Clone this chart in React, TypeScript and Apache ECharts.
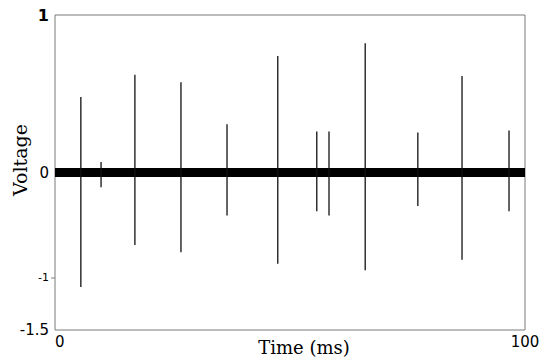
import React, { useEffect, useRef } from "react";
import * as echarts from "echarts";

// Spike events: time (ms), positive peak, negative peak (axis units)
const spikeTimes = [5.5, 9.8, 17.0, 26.8, 36.6, 47.4, 55.7, 58.3, 66.0, 77.2, 86.6, 96.6];
const spikeTops = [0.72, 0.1, 0.93, 0.86, 0.46, 1.11, 0.39, 0.39, 1.23, 0.38, 0.92, 0.4];
const spikeBottoms = [-1.09, -0.14, -0.69, -0.76, -0.41, -0.87, -0.37, -0.41, -0.93, -0.32, -0.83, -0.37];
// Baseline noise band endpoints (time, voltage)
const baselineTimes = [0, 100];
const baselineValues = [0, 0];
// Y tick labels as printed in the figure (value -> text)
const yTickValues = [-1.5, -1, 0, 1.5];
const yTickTexts = ["-1.5", "-1", "0", "1"];
const xTickValues = [0, 100];

export default function App() {
  const ref = useRef<HTMLDivElement>(null);
  useEffect(() => {
    if (!ref.current) return;
    const chart = echarts.init(ref.current, null, { renderer: "svg" });
    const spikeData = spikeTimes.map((t, i) => [t, spikeTops[i], spikeBottoms[i]]);
    const baseData = baselineTimes.map((t, i) => [t, baselineValues[i]]);
    chart.setOption({
      animation: false,
      grid: {
        left: 55,
        right: 25,
        top: 15,
        bottom: 34,
        show: true,
        borderColor: "#7a7a7a",
        borderWidth: 1,
      },
      xAxis: {
        type: "value",
        min: 0,
        max: 100,
        interval: 100,
        axisLine: { show: false },
        axisTick: { show: false },
        splitLine: { show: false },
        axisLabel: {
          show: true,
          color: "#000",
          fontFamily: "DejaVu Sans",
          fontSize: 15,
          margin: 4,
          alignMinLabel: "left",
          formatter: (v: number) => (xTickValues.includes(v) ? String(v) : ""),
        },
      },
      yAxis: {
        type: "value",
        min: -1.5,
        max: 1.5,
        interval: 0.5,
        axisLine: { show: false },
        axisTick: { show: false },
        splitLine: { show: false },
        axisLabel: {
          color: "#000",
          fontFamily: "DejaVu Sans",
          margin: 6,
          formatter: (v: number) => {
            const i = yTickValues.indexOf(v);
            if (i < 0) return "";
            if (v === -1) return "{s|" + yTickTexts[i] + "}";
            if (v === 1.5) return "{t|" + yTickTexts[i] + "}";
            return "{b|" + yTickTexts[i] + "}";
          },
          rich: {
            s: { fontSize: 11, fontFamily: "DejaVu Sans", color: "#000" },
            b: { fontSize: 15, fontFamily: "DejaVu Sans", color: "#000" },
            t: { fontSize: 16, fontWeight: "bold", fontFamily: "DejaVu Sans", color: "#000" },
          },
        },
      },
      graphic: [
        {
          type: "text",
          x: 20,
          y: 160,
          rotation: Math.PI / 2,
          style: {
            text: "Voltage",
            fontFamily: "DejaVu Serif",
            fontSize: 19,
            fill: "#000",
            align: "center",
            verticalAlign: "middle",
          },
        },
        {
          type: "text",
          x: 304,
          y: 347,
          style: {
            text: "Time (ms)",
            fontFamily: "DejaVu Serif",
            fontSize: 18,
            fill: "#000",
            align: "center",
            verticalAlign: "middle",
          },
        },
        {
          type: "line",
          shape: { x1: 51, y1: 278, x2: 55, y2: 278 },
          style: { stroke: "#7a7a7a", lineWidth: 1 },
        },
      ],
      series: [
        {
          type: "line",
          data: baseData,
          symbol: "none",
          lineStyle: { color: "#000", width: 9 },
          z: 2,
        },
        {
          type: "custom",
          data: spikeData,
          z: 3,
          renderItem: (params: any, api: any) => {
            const p1 = api.coord([api.value(0), api.value(1)]);
            const p2 = api.coord([api.value(0), api.value(2)]);
            return {
              type: "line",
              shape: { x1: p1[0], y1: p1[1], x2: p2[0], y2: p2[1] },
              style: { stroke: "#111", lineWidth: 1.3 },
            };
          },
        },
      ],
    });
    return () => chart.dispose();
  }, []);
  return (
    <div
      ref={ref}
      style={{ position: "fixed", left: 0, top: 0, width: 550, height: 364, background: "#fff" }}
    />
  );
}
